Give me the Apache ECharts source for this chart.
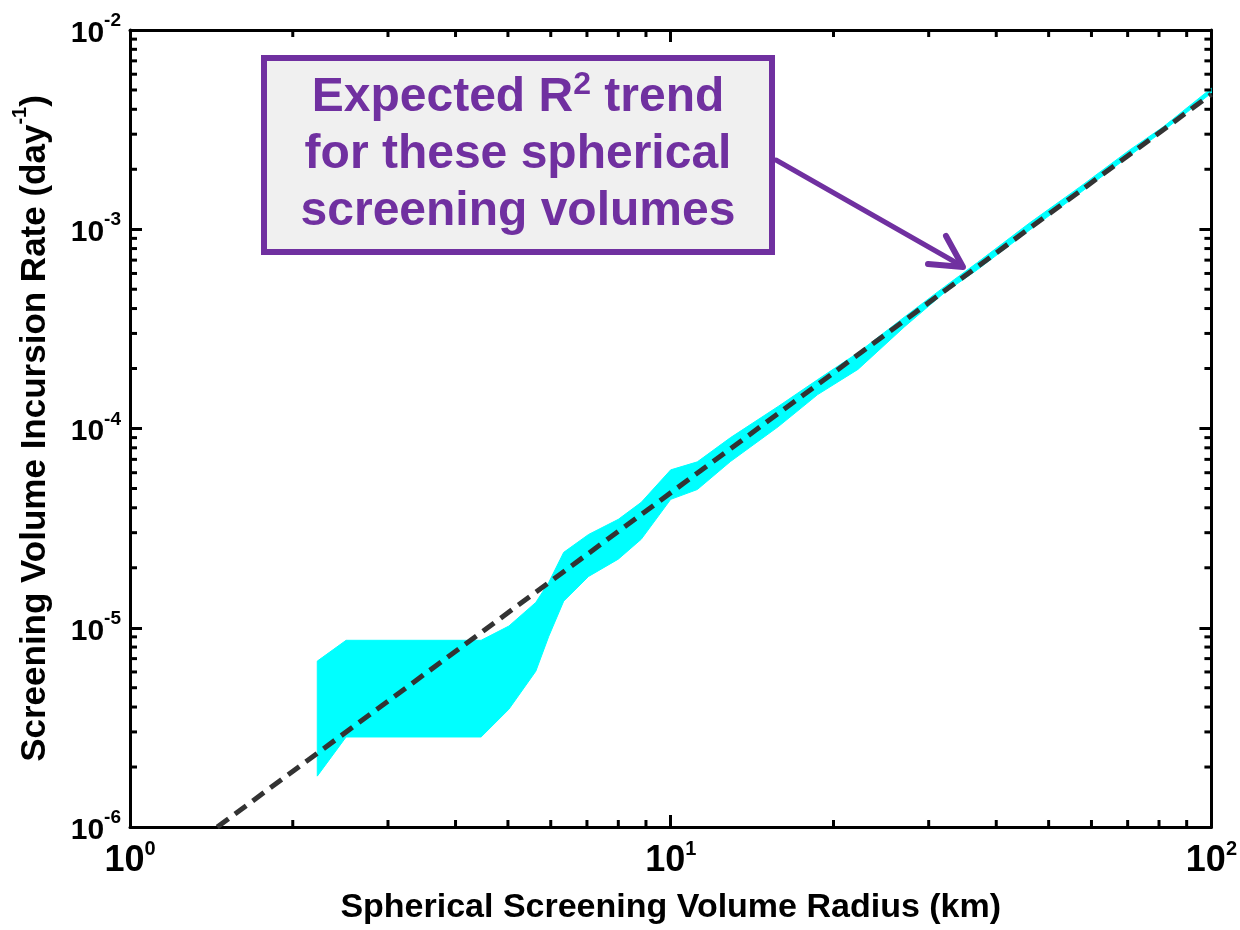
<!DOCTYPE html>
<html>
<head>
<meta charset="utf-8">
<script src="https://cdn.jsdelivr.net/npm/echarts@6/dist/echarts.min.js"></script>
<style>
  html, body { margin: 0; padding: 0; background: #fff; }
  #main { width: 1240px; height: 930px; }
</style>
</head>
<body>
<div id="main"></div>
<script>
// radius (km) where the envelope was sampled
var bandX = [2.22, 2.51, 4.46, 5.02, 5.63, 5.95, 6.34, 7.05, 8.0, 8.82, 10.0, 11.2, 12.9,
  15.8, 18.7, 22.2, 27.1, 32.1, 36.9, 46.2, 57.1, 70.6, 81.5, 100];
var bandUpper = [6.8e-6, 8.65e-6, 8.65e-6, 1.02e-5, 1.34e-5, 1.69e-5, 2.39e-5, 2.94e-5, 3.5e-5,
  4.26e-5, 6.2e-5, 6.8e-5, 9.0e-5, 1.29e-4, 1.76e-4, 2.4e-4, 3.64e-4, 5.15e-4, 6.8e-4,
  1.08e-3, 1.63e-3, 2.5e-3, 3.27e-3, 5.1e-3];
var bandLower = [1.8e-6, 2.83e-6, 2.83e-6, 3.9e-6, 6.05e-6, 9.06e-6, 1.36e-5, 1.81e-5, 2.21e-5,
  2.78e-5, 4.41e-5, 4.94e-5, 6.83e-5, 1.02e-4, 1.48e-4, 1.98e-4, 3.25e-4, 4.81e-4, 6.26e-4,
  9.94e-4, 1.52e-3, 2.34e-3, 3.12e-3, 4.83e-3];

// expected R^2 trend
var trendX = [1.45, 100];
var trendY = [1.0e-6, 4.76e-3];

var xMin = 1, xMax = 100;
var yMin = 1e-6, yMax = 1e-2;
var minorX = [2, 3, 4, 5, 6, 7, 8, 9, 20, 30, 40, 50, 60, 70, 80, 90];
var minorY = [2e-6, 3e-6, 4e-6, 5e-6, 6e-6, 7e-6, 8e-6, 9e-6,
  2e-5, 3e-5, 4e-5, 5e-5, 6e-5, 7e-5, 8e-5, 9e-5,
  2e-4, 3e-4, 4e-4, 5e-4, 6e-4, 7e-4, 8e-4, 9e-4,
  2e-3, 3e-3, 4e-3, 5e-3, 6e-3, 7e-3, 8e-3, 9e-3];

var purple = '#7030A0';
var font = '"Liberation Sans", Arial, sans-serif';

var chart = echarts.init(document.getElementById('main'));

function powLabel(v) {
  var e = Math.round(Math.log10(v));
  return '{b|10}{s|' + e + '}';
}

var bandPoly = [];
for (var i = 0; i < bandX.length; i++) bandPoly.push([bandX[i], bandUpper[i]]);
for (var j = bandX.length - 1; j >= 0; j--) bandPoly.push([bandX[j], bandLower[j]]);

var trendData = trendX.map(function (x, k) { return [x, trendY[k]]; });

var axisLine = { lineStyle: { color: '#000', width: 3 } };
var tickLen = 12;

chart.setOption({
  animation: false,
  grid: { left: 130, right: 25, top: 30, bottom: 102 },
  xAxis: [{
    type: 'log', logBase: 10, min: xMin, max: xMax, interval: 1,
    position: 'bottom',
    name: 'Spherical Screening Volume Radius (km)',
    nameLocation: 'middle', nameGap: 64,
    nameTextStyle: { fontFamily: font, fontWeight: 'bold', fontSize: 34, color: '#000' },
    axisLine: axisLine,
    axisTick: { inside: true, length: tickLen, lineStyle: { color: '#000', width: 3 } },
    splitLine: { show: false },
    axisLabel: {
      margin: 12, formatter: powLabel,
      rich: {
        b: { fontFamily: font, fontWeight: 'bold', fontSize: 36, color: '#000', padding: [4, 0, 0, 0] },
        s: { fontFamily: font, fontWeight: 'bold', fontSize: 20, color: '#000', verticalAlign: 'top' }
      }
    }
  }, {
    type: 'log', logBase: 10, min: xMin, max: xMax, interval: 1,
    position: 'top',
    axisLine: axisLine,
    axisTick: { inside: true, length: tickLen, lineStyle: { color: '#000', width: 3 } },
    splitLine: { show: false },
    axisLabel: { show: false }
  }],
  yAxis: [{
    type: 'log', logBase: 10, min: yMin, max: yMax, interval: 1,
    position: 'left',
    name: '{t|Screening Volume Incursion Rate (day}{s|-1}{t|)}',
    nameLocation: 'middle', nameGap: 77,
    nameTextStyle: {
      rich: {
        t: { fontFamily: font, fontWeight: 'bold', fontSize: 35, color: '#000', padding: [8, 0, 0, 0] },
        s: { fontFamily: font, fontWeight: 'bold', fontSize: 20, color: '#000', verticalAlign: 'top' }
      }
    },
    axisLine: axisLine,
    axisTick: { inside: true, length: tickLen, lineStyle: { color: '#000', width: 3 } },
    splitLine: { show: false },
    axisLabel: {
      margin: 9, formatter: powLabel,
      rich: {
        b: { fontFamily: font, fontWeight: 'bold', fontSize: 30, color: '#000', padding: [7, 0, 0, 0] },
        s: { fontFamily: font, fontWeight: 'bold', fontSize: 19, color: '#000', verticalAlign: 'top' }
      }
    }
  }, {
    type: 'log', logBase: 10, min: yMin, max: yMax, interval: 1,
    position: 'right',
    axisLine: axisLine,
    axisTick: { inside: true, length: tickLen, lineStyle: { color: '#000', width: 3 } },
    splitLine: { show: false },
    axisLabel: { show: false }
  }],
  series: [
    {
      // cyan envelope
      type: 'custom',
      z: 1,
      data: [bandPoly[0]],
      renderItem: function (params, api) {
        var pts = bandPoly.map(function (p) { return api.coord(p); });
        return {
          type: 'polygon',
          shape: { points: pts },
          style: { fill: '#00FFFF', stroke: '#00FFFF', lineWidth: 1 }
        };
      }
    },
    {
      type: 'line',
      z: 3,
      data: trendData,
      symbol: 'none',
      lineStyle: { color: '#333333', width: 5, type: [14, 8] }
    },
    {
      // minor ticks on x (bottom and top)
      type: 'custom',
      z: 4,
      data: minorX.map(function (v) { return [v, yMin]; }),
      renderItem: function (params, api) {
        var b = api.coord([api.value(0), yMin]);
        var t = api.coord([api.value(0), yMax]);
        var st = { stroke: '#000', lineWidth: 3 };
        return {
          type: 'group',
          children: [
            { type: 'line', shape: { x1: b[0], y1: b[1], x2: b[0], y2: b[1] - 7 }, style: st },
            { type: 'line', shape: { x1: t[0], y1: t[1], x2: t[0], y2: t[1] + 7 }, style: st }
          ]
        };
      }
    },
    {
      // minor ticks on y (left and right)
      type: 'custom',
      z: 4,
      data: minorY.map(function (v) { return [xMin, v]; }),
      renderItem: function (params, api) {
        var l = api.coord([xMin, api.value(1)]);
        var r = api.coord([xMax, api.value(1)]);
        var st = { stroke: '#000', lineWidth: 3 };
        return {
          type: 'group',
          children: [
            { type: 'line', shape: { x1: l[0], y1: l[1], x2: l[0] + 7, y2: l[1] }, style: st },
            { type: 'line', shape: { x1: r[0], y1: r[1], x2: r[0] - 7, y2: r[1] }, style: st }
          ]
        };
      }
    }
  ],
  graphic: [
    {
      type: 'rect', z: 10,
      shape: { x: 264, y: 58, width: 508, height: 194 },
      style: { fill: '#F0F0F0', stroke: purple, lineWidth: 6 }
    },
    {
      type: 'text', z: 11,
      x: 518, y: 155,
      style: {
        text: '{t|Expected R}{s|2}{t| trend}\n{t|for these spherical}\n{t|screening volumes}',
        align: 'center', verticalAlign: 'middle',
        rich: {
          t: { fontFamily: font, fontWeight: 'bold', fontSize: 48, lineHeight: 57, fill: purple, align: 'center' },
          s: { fontFamily: font, fontWeight: 'bold', fontSize: 32, lineHeight: 57, fill: purple, verticalAlign: 'top', padding: [0, 0, 16, 0] }
        }
      }
    },
    {
      type: 'line', z: 10,
      shape: { x1: 776, y1: 160, x2: 962, y2: 266 },
      style: { stroke: purple, lineWidth: 5, lineCap: 'round' }
    },
    {
      type: 'polyline', z: 10,
      shape: { points: [[928, 264], [963, 267], [946, 236]] },
      style: { stroke: purple, lineWidth: 6, lineCap: 'round', lineJoin: 'round', fill: 'none' }
    }
  ]
});
</script>
</body>
</html>
